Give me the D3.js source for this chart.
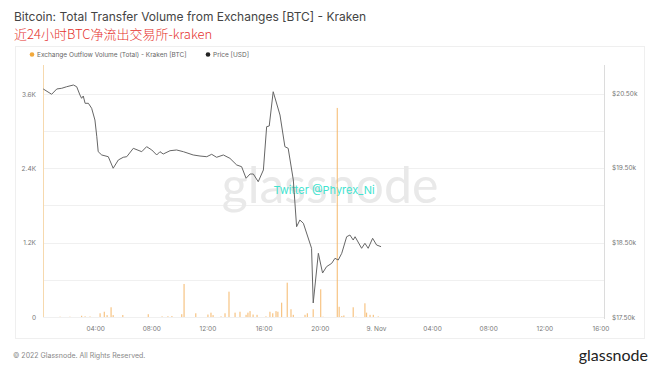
<!DOCTYPE html>
<html>
<head>
<meta charset="utf-8">
<script src="https://cdn.jsdelivr.net/npm/d3@7"></script>
<style>
  body { margin: 0; background: #fff; }
  svg { display: block; font-family: Inter, "Noto Sans", sans-serif; }
</style>
</head>
<body>
<svg class="chart" width="660" height="372"></svg>
<script>
// price line: minutes after 8 Nov 00:00 UTC and price in USD
var priceMin = [18, 54, 76, 97, 118, 147, 161, 175, 182, 189, 197, 211, 225, 239, 247, 253, 268, 296, 317, 339,
    360, 375, 403, 439, 460, 482, 503, 517, 531, 560, 588, 617, 659, 688, 717, 738, 759, 788, 816, 845,
    866, 885, 902, 916, 937, 959, 973, 984, 1001, 1030, 1051, 1065, 1087, 1101, 1115, 1130, 1165, 1172, 1194, 1212,
    1229, 1251, 1265, 1279, 1294, 1315, 1329, 1343, 1351, 1379, 1393, 1407, 1426, 1443, 1462];
var price = [20554, 20483, 20554, 20563, 20584, 20607, 20584, 20473, 20429, 20460, 20362, 20362, 20295, 20138, 19914, 19714, 19670, 19647, 19492, 19603,
    19639, 19647, 19759, 19714, 19781, 19737, 19670, 19714, 19683, 19727, 19737, 19714, 19670, 19656, 19647, 19679, 19639, 19670, 19625, 19536,
    19513, 19358, 19415, 19415, 19312, 19469, 20049, 20058, 20517, 20205, 19781, 19759, 19335, 18709, 18799, 18755, 18420, 17688, 18353, 18089,
    18174, 18219, 18286, 18263, 18353, 18575, 18598, 18531, 18575, 18420, 18487, 18420, 18554, 18464, 18442];

// outflow bars: minutes after 8 Nov 00:00 UTC and volume in BTC
var flowMin = [90, 132, 182, 197, 218, 261, 279, 291, 308, 317, 358, 467, 526, 551, 568, 610, 620, 670, 722, 735,
    744, 778, 795, 812, 838, 859, 885, 893, 902, 915, 932, 970, 987, 999, 1013, 1021, 1037, 1061, 1077, 1087,
    1137, 1147, 1172, 1204, 1214, 1275, 1283, 1294, 1303, 1343, 1355, 1393, 1400, 1415, 1429, 1450];
var flow = [5, 5, 20, 10, 8, 60, 85, 30, 157, 30, 32, 45, 10, 12, 15, 45, 533, 60, 40, 70,
    30, 10, 60, 409, 70, 85, 35, 70, 95, 40, 35, 10, 85, 60, 95, 85, 231, 554, 125, 35,
    35, 60, 125, 447, 5, 3375, 165, 15, 25, 157, 5, 221, 70, 35, 35, 10];

var leftTicks = [0, 1200, 2400, 3600];
var gridTicks = [0, 600, 1200, 1800, 2400, 3000, 3600];
var rightTicks = [17500, 18500, 19500, 20500];

var t0 = new Date(Date.UTC(2022, 10, 8));
function toDate(m) { return d3.utcMinute.offset(t0, m); }

var svg = d3.select(".chart");
var plotLeft = 43, plotRight = 604, plotTop = 65, plotBottom = 317;

var x = d3.scaleUtc()
    .domain([toDate(17), toDate(24 * 60 + 16 * 60 + 15)])
    .range([plotLeft, plotRight]);
var y = d3.scaleLinear().domain([0, 4068]).range([plotBottom, plotTop]);
var yPrice = d3.scaleLinear().domain([17500, 20875]).range([plotBottom, plotTop]);

// panel frame
svg.append("rect").attr("x", 15.5).attr("y", 46.5).attr("width", 629).attr("height", 292)
    .attr("fill", "none").attr("stroke", "#efefef");

// titles
svg.append("text").attr("x", 14).attr("y", 21)
    .style("font-size", "12px").style("fill", "#444")
    .text("Bitcoin: Total Transfer Volume from Exchanges [BTC] - Kraken");
svg.append("text").attr("x", 14).attr("y", 39)
    .style("font-family", "'Noto Sans CJK SC', sans-serif")
    .style("font-size", "13px").style("fill", "#e5322d").style("font-weight", 300)
    .text("近24小时BTC净流出交易所-kraken");

// legend
svg.append("circle").attr("cx", 32).attr("cy", 54.5).attr("r", 2.3).style("fill", "#f2a93b");
svg.append("text").attr("x", 37).attr("y", 57).style("font-size", "6.5px").style("fill", "#666")
    .text("Exchange Outflow Volume (Total) - Kraken [BTC]");
svg.append("circle").attr("cx", 208).attr("cy", 54.5).attr("r", 2.3).style("fill", "#222");
svg.append("text").attr("x", 213).attr("y", 57).style("font-size", "6.5px").style("fill", "#666")
    .text("Price [USD]");

// grid
svg.append("g").selectAll("line").data(gridTicks).enter().append("line")
    .attr("x1", plotLeft).attr("x2", plotRight)
    .attr("y1", d => Math.round(y(d)) + 0.5).attr("y2", d => Math.round(y(d)) + 0.5)
    .attr("stroke", "#f0f0f0");

// watermarks
svg.append("text").attr("x", 330).attr("y", 203).attr("text-anchor", "middle")
    .style("font-size", "50px").style("fill", "#e9e9e9").style("font-family", "Lato, sans-serif")
    .text("glassnode");
svg.append("text").attr("x", 324).attr("y", 194).attr("text-anchor", "middle")
    .style("font-size", "11px").style("fill", "#3fe3cf")
    .text("Twitter @Phyrex_Ni");

// axis lines
svg.append("line").attr("x1", plotLeft + 0.5).attr("x2", plotLeft + 0.5).attr("y1", plotTop).attr("y2", plotBottom)
    .attr("stroke", "#f6d9ae");
svg.append("line").attr("x1", plotRight + 0.5).attr("x2", plotRight + 0.5).attr("y1", plotTop).attr("y2", plotBottom + 2)
    .attr("stroke", "#dcdcdc");

// bars
svg.append("g").selectAll("rect").data(flowMin).enter().append("rect")
    .attr("x", d => x(toDate(d)) - 0.6)
    .attr("width", 1.2)
    .attr("y", (d, i) => y(flow[i]))
    .attr("height", (d, i) => plotBottom - y(flow[i]))
    .attr("fill", "#f5b565")
    .attr("opacity", 0.8);

// price line
var line = d3.line()
    .x(d => x(toDate(d)))
    .y((d, i) => yPrice(price[i]));
svg.append("path").datum(priceMin).attr("d", line)
    .attr("fill", "none").attr("stroke", "#666").attr("stroke-width", 1);

// left axis
var yAxis = d3.axisLeft(y).tickValues(leftTicks).tickSize(0).tickPadding(7)
    .tickFormat(d => d === 0 ? "0" : d3.format(".1f")(d / 1000) + "K");
svg.append("g").attr("transform", "translate(" + plotLeft + ",0)").call(yAxis)
    .call(g => g.select(".domain").remove())
    .selectAll("text").style("font-size", "6.5px").style("fill", "#777").style("font-family", "Inter, sans-serif");

// right axis
var rAxis = d3.axisRight(yPrice).tickValues(rightTicks).tickSize(0).tickPadding(8)
    .tickFormat(d => "$" + d3.format(".2f")(d / 1000) + "k");
svg.append("g").attr("transform", "translate(" + plotRight + ",0)").call(rAxis)
    .call(g => g.select(".domain").remove())
    .selectAll("text").style("font-size", "6.5px").style("fill", "#777").style("font-family", "Inter, sans-serif");

// x axis
var xAxis = d3.axisBottom(x).ticks(d3.utcHour.every(4)).tickSize(0).tickPadding(9)
    .tickFormat(d => d.getUTCHours() === 0 ? d3.utcFormat("%-d. %b")(d) : d3.utcFormat("%H:%M")(d));
svg.append("g").attr("transform", "translate(0," + plotBottom + ")").call(xAxis)
    .call(g => g.select(".domain").remove())
    .selectAll("text").style("font-size", "6.5px").style("fill", "#777").style("font-family", "Inter, sans-serif");

// footer
svg.append("text").attr("x", 13).attr("y", 358).style("font-size", "7px").style("fill", "#888")
    .text("© 2022 Glassnode. All Rights Reserved.");
svg.append("text").attr("x", 648).attr("y", 361).attr("text-anchor", "end")
    .style("font-size", "16px").style("fill", "#222").style("font-family", "Lato, sans-serif")
    .text("glassnode");
</script>
</body>
</html>
